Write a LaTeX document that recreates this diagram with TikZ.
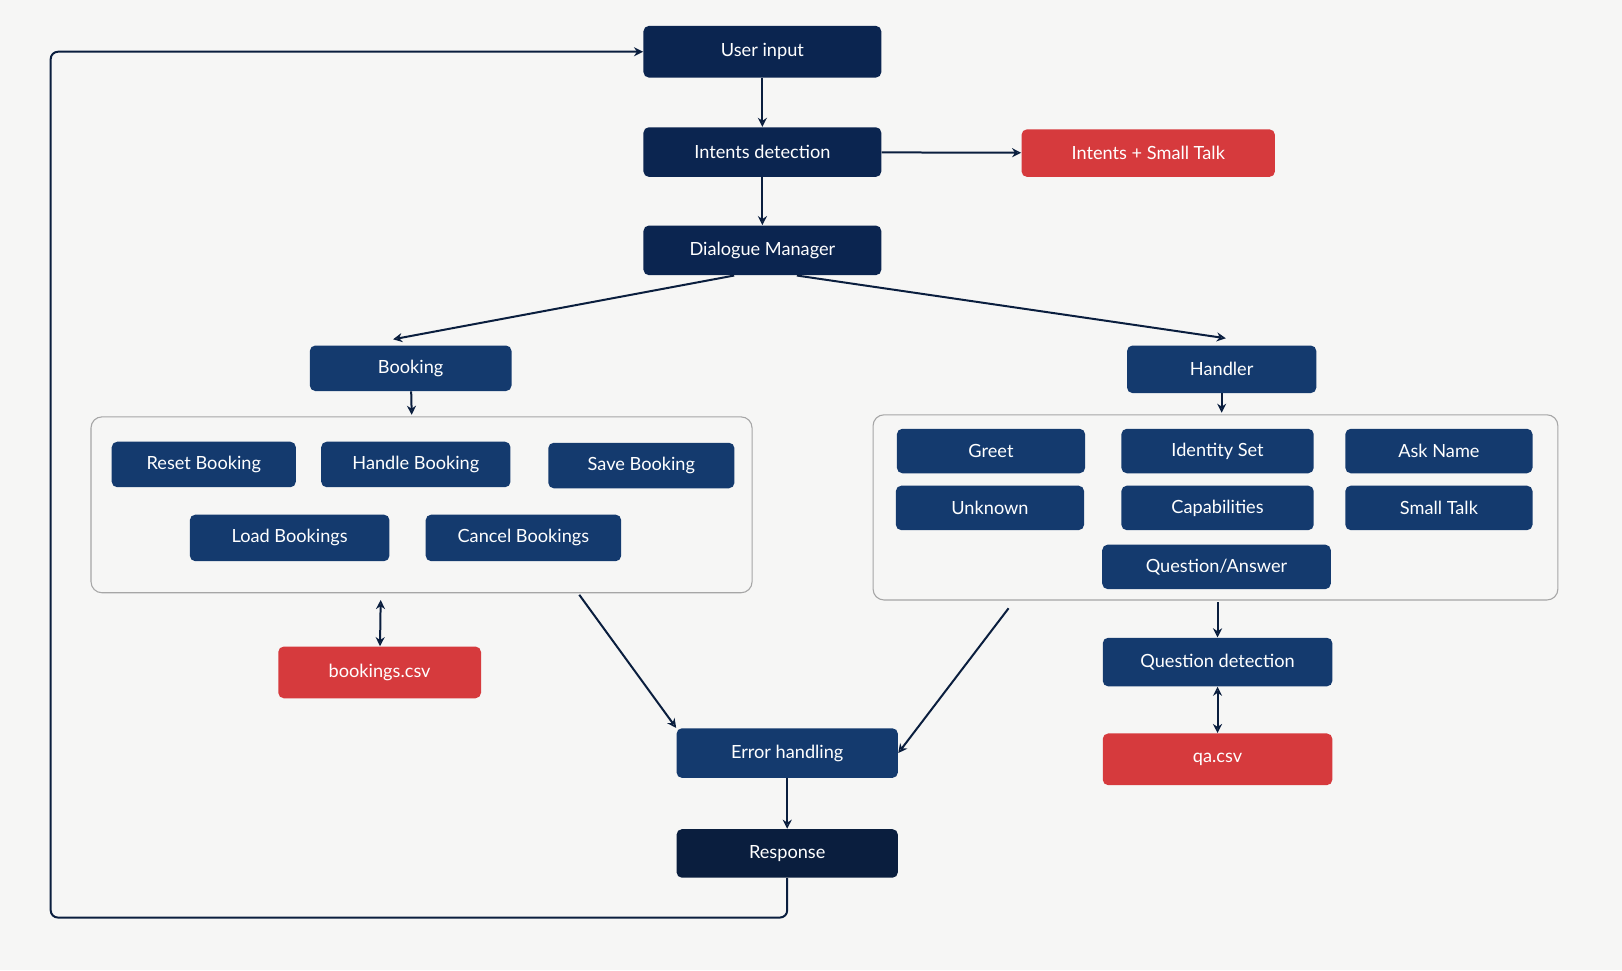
\documentclass[tikz,border=0pt]{standalone}
\usepackage{fontspec}
\setmainfont{Lato}
\usetikzlibrary{arrows.meta}
\definecolor{navydark}{HTML}{0B2550}
\definecolor{navyblack}{HTML}{0A1E3E}
\definecolor{navy}{HTML}{143A6E}
\definecolor{alert}{HTML}{D63A3D}
\definecolor{paper}{HTML}{F6F6F5}
\begin{document}
\begin{tikzpicture}[x=0.02cm,y=-0.02cm]

	\tikzstyle box=[rounded corners=3pt, text=white, font=\fontsize{10}{12}\selectfont, inner sep=0pt];
	\tikzstyle top box=[box, fill=navydark];
	\tikzstyle sub box=[box, fill=navy];
	\tikzstyle data box=[box, fill=alert];
	\tikzstyle group=[draw=gray!70, rounded corners=6pt, line width=0.6pt];
	\tikzstyle flow=[draw=navyblack, line width=1.1pt, -{Stealth[length=5pt,width=5pt,open]}];
	\tikzstyle both=[flow, {Stealth[length=5pt,width=5pt,open]}-{Stealth[length=5pt,width=5pt,open]}];

	\fill[paper] (0,0) rectangle (1568,938);
	\useasboundingbox (0,0) rectangle (1568,938);

	% main column
	\node[top box, minimum width=4.6cm, minimum height=1cm] (input) at (737,50) {User input};
	\node[top box, minimum width=4.6cm, minimum height=0.96cm] (intents) at (737,147) {Intents detection};
	\node[data box, minimum width=4.9cm, minimum height=0.92cm] (smalltalk) at (1110,148) {Intents + Small Talk};
	\node[top box, minimum width=4.6cm, minimum height=0.96cm] (dialogue) at (737,242) {Dialogue Manager};
	\node[sub box, minimum width=4.28cm, minimum height=0.96cm] (error) at (761,728) {Error handling};
	\node[top box, fill=navyblack, minimum width=4.28cm, minimum height=0.94cm] (response) at (761,825) {Response};

	% booking side
	\node[sub box, minimum width=3.9cm, minimum height=0.88cm] (booking) at (397,356) {Booking};
	\draw[group] (88,403) rectangle (727,573);
	\coordinate (bookTop) at (398,401);
	\coordinate (bookBot) at (368,580);
	\coordinate (bookOut) at (560,575);
	\node[sub box, minimum width=3.56cm, minimum height=0.88cm] (reset) at (197,449) {Reset Booking};
	\node[sub box, minimum width=3.66cm, minimum height=0.88cm] (handle) at (402,449) {Handle Booking};
	\node[sub box, minimum width=3.6cm, minimum height=0.88cm] (save) at (620,450) {Save Booking};
	\node[sub box, minimum width=3.86cm, minimum height=0.9cm] (load) at (280,520) {Load Bookings};
	\node[sub box, minimum width=3.78cm, minimum height=0.9cm] (cancel) at (506,520) {Cancel Bookings};
	\node[data box, minimum width=3.92cm, minimum height=1cm] (bookings) at (367,650) {bookings.csv};

	% handler side
	\node[sub box, minimum width=3.66cm, minimum height=0.92cm] (handler) at (1181,357) {Handler};
	\draw[group] (844,401) rectangle (1506,580);
	\coordinate (handTop) at (1181,399);
	\coordinate (handBot) at (1177,582);
	\coordinate (handOut) at (975,588);
	\node[sub box, minimum width=3.64cm, minimum height=0.86cm] (greet) at (958,436) {Greet};
	\node[sub box, minimum width=3.72cm, minimum height=0.86cm] (identity) at (1177,436) {Identity Set};
	\node[sub box, minimum width=3.62cm, minimum height=0.86cm] (askname) at (1391,436) {Ask Name};
	\node[sub box, minimum width=3.64cm, minimum height=0.86cm] (unknown) at (957,491) {Unknown};
	\node[sub box, minimum width=3.72cm, minimum height=0.86cm] (capab) at (1177,491) {Capabilities};
	\node[sub box, minimum width=3.62cm, minimum height=0.86cm] (talk) at (1391,491) {Small Talk};
	\node[sub box, minimum width=4.42cm, minimum height=0.86cm] (qanswer) at (1176,548) {Question/Answer};
	\node[sub box, minimum width=4.44cm, minimum height=0.94cm] (qdetect) at (1177,640) {Question detection};
	\node[data box, minimum width=4.44cm, minimum height=1cm] (qa) at (1177,734) {qa.csv};

	% connectors
	\draw[flow] (input) -- (intents);
	\draw[flow] (intents) -- (smalltalk);
	\draw[flow] (intents) -- (dialogue);
	\draw[flow] (dialogue.south west) ++(88,0) -- (380,328);
	\draw[flow] (dialogue.south east) ++(-82,0) -- (1185,327);
	\draw[flow] (booking) -- (bookTop);
	\draw[flow] (handler) -- (handTop);
	\draw[both] (bookBot) -- (bookings);
	\draw[flow] (bookOut) -- (error.north west);
	\draw[flow] (handOut) -- (error.east);
	\draw[flow] (handBot) -- (qdetect);
	\draw[both] (qdetect) -- (qa);
	\draw[flow] (error) -- (response);
	\draw[flow, rounded corners=4pt] (response.south) |- (49,887) |- (input.west);

\end{tikzpicture}
\end{document}
